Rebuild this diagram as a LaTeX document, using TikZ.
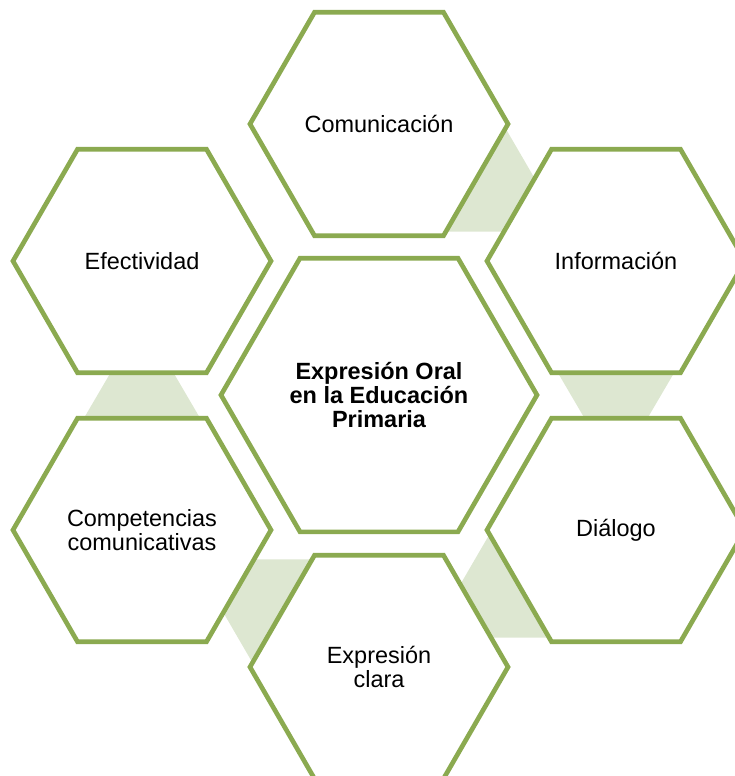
\documentclass[tikz,border=0pt]{standalone}
\usepackage{fontspec}
\setmainfont{Liberation Sans}
\usetikzlibrary{shapes.geometric,calc,backgrounds}
\definecolor{hexgreen}{RGB}{139,170,80}
\definecolor{linkgreen}{RGB}{221,231,209}
\begin{document}
\begin{tikzpicture}
			[x=0.75pt,y=-0.75pt,
			hex/.style={regular polygon,regular polygon sides=6,draw=hexgreen,line width=3.5pt,fill=white,inner sep=0pt,minimum size=193.5pt,align=center,font=\fontsize{17.6}{17.8}\selectfont},
			bighex/.style={hex,minimum size=237pt,font=\fontsize{17.6}{18.3}\selectfont\bfseries},
			link/.style={fill=linkgreen}]
			\useasboundingbox (0,0) rectangle (735,776);
			\clip (0,0) rectangle (735,776);
			\node[bighex,name=mid] at (379,395) {Expresión Oral\\en la Educación\\Primaria};
			\node[hex,name=com] at (379,124) {Comunicación};
			\node[hex,name=inf] at (616,261) {Información};
			\node[hex,name=dia] at (616,530) {Diálogo};
			\node[hex,name=exp] at (379,667) {Expresión\\clara};
			\node[hex,name=comp] at (142,530) {Competencias\\comunicativas};
			\node[hex,name=efe] at (142,261) {Efectividad};
			\begin{scope}[on background layer]
			\foreach \p/\n in {com/inf,inf/dia,dia/exp,exp/comp,comp/efe}
				\fill[link] ($(\n)!43.5pt!(\p)$) -- ($(\p)!92.7pt!90:(\n)$) -- ($(\p)!92.7pt!-90:(\n)$) -- cycle;
			\end{scope}
		\end{tikzpicture}
\end{document}
